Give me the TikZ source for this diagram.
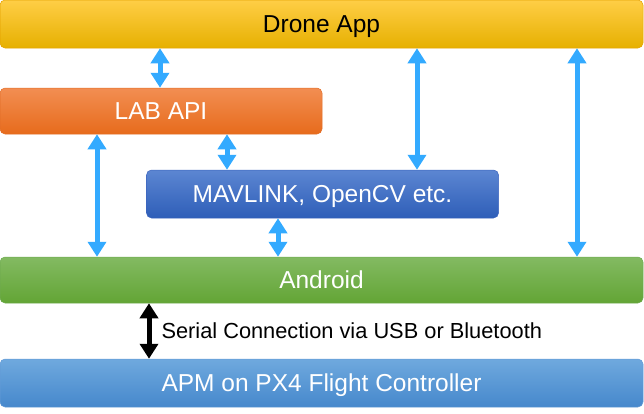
\documentclass[tikz,border=0pt]{standalone}
\usepackage{fontspec}
\setmainfont{Liberation Sans}
\usetikzlibrary{arrows.meta}
\definecolor{linkblue}{HTML}{33AAFF}

\begin{document}
\begin{tikzpicture}[x=1pt,y=-1pt,
    layer/.style={rectangle,rounded corners=5pt,inner sep=0pt,
	text height=17.6pt,text depth=0pt,text=white,
	font=\fontsize{24.5}{28}\selectfont,line width=0.5pt},
    link/.style={draw=linkblue,line width=5pt,
	{Triangle[width=18pt,length=15pt]}-{Triangle[width=18pt,length=15pt]}},
    serial/.style={draw=black,line width=5pt,
	{Triangle[width=18pt,length=15pt]}-{Triangle[width=18pt,length=15pt]}}]
    \useasboundingbox (0,0) rectangle (644,413);

    % layers, top to bottom
    \node[layer,text=black,draw=orange!60!yellow!90!black,top color={rgb,255:red,255;green,206;blue,70},
	middle color={rgb,255:red,255;green,192;blue,0},bottom color={rgb,255:red,230;green,176;blue,0},
	minimum width=643,minimum height=48] (drone) at (321.5,24) {Drone App};
    \node[layer,draw={rgb,255:red,226;green,110;blue,40},top color={rgb,255:red,242;green,142;blue,82},
	bottom color={rgb,255:red,231;green,107;blue,28},
	minimum width=322,minimum height=46] (lab) at (161,111) {LAB API};
    \node[layer,draw={rgb,255:red,60;green,100;blue,190},top color={rgb,255:red,92;green,134;blue,210},
	bottom color={rgb,255:red,46;green,94;blue,184},
	minimum width=352,minimum height=48] (mav) at (322.5,194) {MAVLINK, OpenCV etc.};
    \node[layer,draw={rgb,255:red,110;green,170;blue,80},top color={rgb,255:red,131;green,186;blue,98},
	bottom color={rgb,255:red,99;green,165;blue,53},
	minimum width=643,minimum height=46] (android) at (321.5,280) {Android};
    \node[layer,draw={rgb,255:red,100;green,155;blue,215},top color={rgb,255:red,111;green,169;blue,222},
	bottom color={rgb,255:red,70;green,136;blue,204},
	minimum width=643,minimum height=48] (apm) at (321.5,383) {APM on PX4 Flight Controller};

    % links
    \draw[link] (drone.south -| 160,0) -- (lab.north -| 160,0);
    \draw[link] (drone.south -| 417,0) -- (mav.north -| 417,0);
    \draw[link] (drone.south -| 577,0) -- (android.north -| 577,0);
    \draw[link] (lab.south -| 97,0) -- (android.north -| 97,0);
    \draw[link] (lab.south -| 227,0) -- (mav.north -| 227,0);
    \draw[link] (mav.south -| 278,0) -- (android.north -| 278,0);
    \draw[serial] (android.south -| 149,0) -- (apm.north -| 149,0)
	node[midway,right=10pt,inner sep=0pt,font=\fontsize{21.8}{25}\selectfont]
	{Serial Connection via USB or Bluetooth};
\end{tikzpicture}
\end{document}
